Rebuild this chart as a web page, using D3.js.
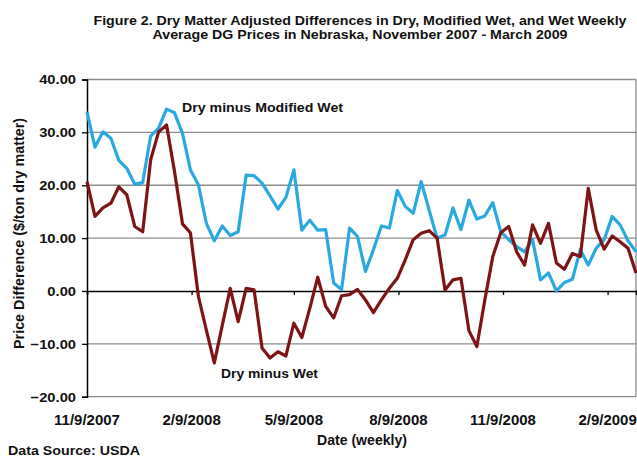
<!DOCTYPE html>
<html><head><meta charset="utf-8">
<script src="https://cdn.jsdelivr.net/npm/d3@7"></script>
<style>body{margin:0;background:#fff}svg{display:block;font-family:"Liberation Sans",Arial,sans-serif}</style>
</head><body><svg id="c" width="637" height="458"></svg>
<script>
const startDate = "2007-11-09";
const dryMinusModWet = [33.9,27.2,30.1,28.9,24.7,23.2,20.2,20.5,29.3,30.8,34.4,33.7,29.8,22.9,20.1,12.8,9.5,12.3,10.5,11.2,21.9,21.8,20.4,18.0,15.5,17.7,22.9,11.5,13.4,11.5,11.6,1.5,0.3,11.9,10.3,3.7,7.8,12.3,11.9,19.0,16.0,14.7,20.7,15.3,10.0,10.6,15.7,11.6,17.2,13.6,14.2,16.7,11.2,9.7,8.4,7.4,9.7,2.1,3.4,0.0,1.6,2.2,7.8,4.9,8.1,9.7,14.1,12.5,9.5,7.4];
const dryMinusWet = [20.7,14.1,15.7,16.6,19.7,18.2,12.2,11.2,24.8,30.1,31.4,22.6,12.7,11.0,-1.0,-7.4,-13.6,-6.5,0.5,-5.8,0.5,0.2,-10.8,-12.7,-11.5,-12.3,-6.1,-8.8,-3.3,2.6,-2.9,-5.1,-0.9,-0.7,0.3,-1.7,-4.1,-1.7,0.5,2.4,5.9,9.7,10.9,11.4,10.0,0.2,2.1,2.4,-7.5,-10.5,-1.7,6.5,11.0,12.2,7.4,4.9,12.5,9.0,12.8,5.3,4.1,7.1,6.5,19.4,11.5,7.9,10.4,9.3,8.1,3.4];
const xTickLabels = ["11/9/2007","2/9/2008","5/9/2008","8/9/2008","11/9/2008","2/9/2009"];
const yTicks = [-20,-10,0,10,20,30,40];
const seriesNames = ["Dry minus Modified Wet","Dry minus Wet"];
const titleLines = ["Figure 2. Dry Matter Adjusted Differences in Dry, Modified Wet, and Wet Weekly","Average DG Prices in Nebraska, November 2007 - March 2009"];

const svg = d3.select("#c");
const m = {l:87, r:636, t:79.5, b:396.7};
const parse = d3.timeParse("%m/%d/%Y");
const start = d3.timeParse("%Y-%m-%d")(startDate);
const dates = dryMinusModWet.map((d,i)=>d3.timeDay.offset(start, 7*i));
const x = d3.scaleTime().domain([dates[0], dates[dates.length-1]]).range([m.l, m.r]);
const y = d3.scaleLinear().domain([-20,40]).range([m.b, m.t]);

function stretch(sel, f){
  sel.each(function(){ const w=this.getComputedTextLength(); d3.select(this).attr("textLength", w*f).attr("lengthAdjust","spacingAndGlyphs"); });
}
function fit(sel, w){ sel.attr("textLength", w).attr("lengthAdjust","spacingAndGlyphs"); }

// gridlines
svg.append("g").selectAll("line").data(yTicks.filter(v=>v!==0)).join("line")
  .attr("x1",m.l).attr("x2",m.r).attr("y1",d=>y(d)).attr("y2",d=>y(d))
  .attr("stroke","#8c8c8c").attr("stroke-width",1.3);
svg.append("line").attr("x1",m.r).attr("x2",m.r).attr("y1",m.t).attr("y2",m.b)
  .attr("stroke","#8c8c8c").attr("stroke-width",1.3);

// y axis
const yAxis = svg.append("g").attr("transform",`translate(${m.l},0)`)
  .call(d3.axisLeft(y).tickValues(yTicks).tickSize(5).tickPadding(6).tickFormat(d3.format(".2f")));
yAxis.select(".domain").attr("stroke","#000").attr("stroke-width",1.5);
yAxis.selectAll(".tick line").attr("stroke","#000").attr("stroke-width",1.3);
yAxis.selectAll("text").attr("font-size",13.5).attr("font-weight","bold").attr("fill","#111").attr("font-family","Liberation Sans, Arial");
stretch(yAxis.selectAll("text"), 1.09);

// x axis at zero
const tickDates = xTickLabels.map(parse);
const xAxis = svg.append("g").attr("transform",`translate(0,${y(0)})`)
  .call(d3.axisBottom(x).tickValues(tickDates).tickSize(4).tickFormat(""));
xAxis.select(".domain").attr("stroke","#000").attr("stroke-width",1.5);
xAxis.selectAll(".tick line").attr("stroke","#000").attr("stroke-width",1.3);

const xl = svg.append("g").selectAll("text").data(tickDates).join("text")
  .attr("x",d=>x(d)).attr("y",424.5).attr("text-anchor","middle")
  .attr("font-size",14).attr("font-weight","bold").attr("fill","#111")
  .text((d,i)=>xTickLabels[i]);
stretch(xl, 1.07);

// lines
const line = d3.line().x((d,i)=>x(dates[i])).y(d=>y(d));
svg.append("path").datum(dryMinusModWet).attr("d",line).attr("fill","none")
  .attr("stroke","#2aa9e0").attr("stroke-width",3.2).attr("stroke-linejoin","round");
svg.append("path").datum(dryMinusWet).attr("d",line).attr("fill","none")
  .attr("stroke","#7d1416").attr("stroke-width",3.2).attr("stroke-linejoin","round");

// series labels
fit(svg.append("text").attr("x",182).attr("y",112).attr("font-size",13.5).attr("font-weight","bold").attr("fill","#111").text(seriesNames[0]), 161);
fit(svg.append("text").attr("x",221).attr("y",378).attr("font-size",13.5).attr("font-weight","bold").attr("fill","#111").text(seriesNames[1]), 97);

// title
const tw = [533, 415];
svg.append("g").selectAll("text").data(titleLines).join("text")
  .attr("x",360).attr("y",(d,i)=>25+i*13.5).attr("text-anchor","middle")
  .attr("font-size",13).attr("font-weight","bold").attr("fill","#111").text(d=>d)
  .attr("textLength",(d,i)=>tw[i]).attr("lengthAdjust","spacingAndGlyphs");

// axis titles
fit(svg.append("text").attr("transform","translate(24,233.5) rotate(-90)").attr("text-anchor","middle")
  .attr("font-size",14).attr("font-weight","bold").attr("fill","#111").text("Price Difference ($/ton dry matter)"), 231);
fit(svg.append("text").attr("x",362).attr("y",445).attr("text-anchor","middle")
  .attr("font-size",14).attr("font-weight","bold").attr("fill","#111").text("Date (weekly)"), 90);
fit(svg.append("text").attr("x",8).attr("y",454.5)
  .attr("font-size",13).attr("font-weight","bold").attr("fill","#111").text("Data Source: USDA"), 132);
</script></body></html>
